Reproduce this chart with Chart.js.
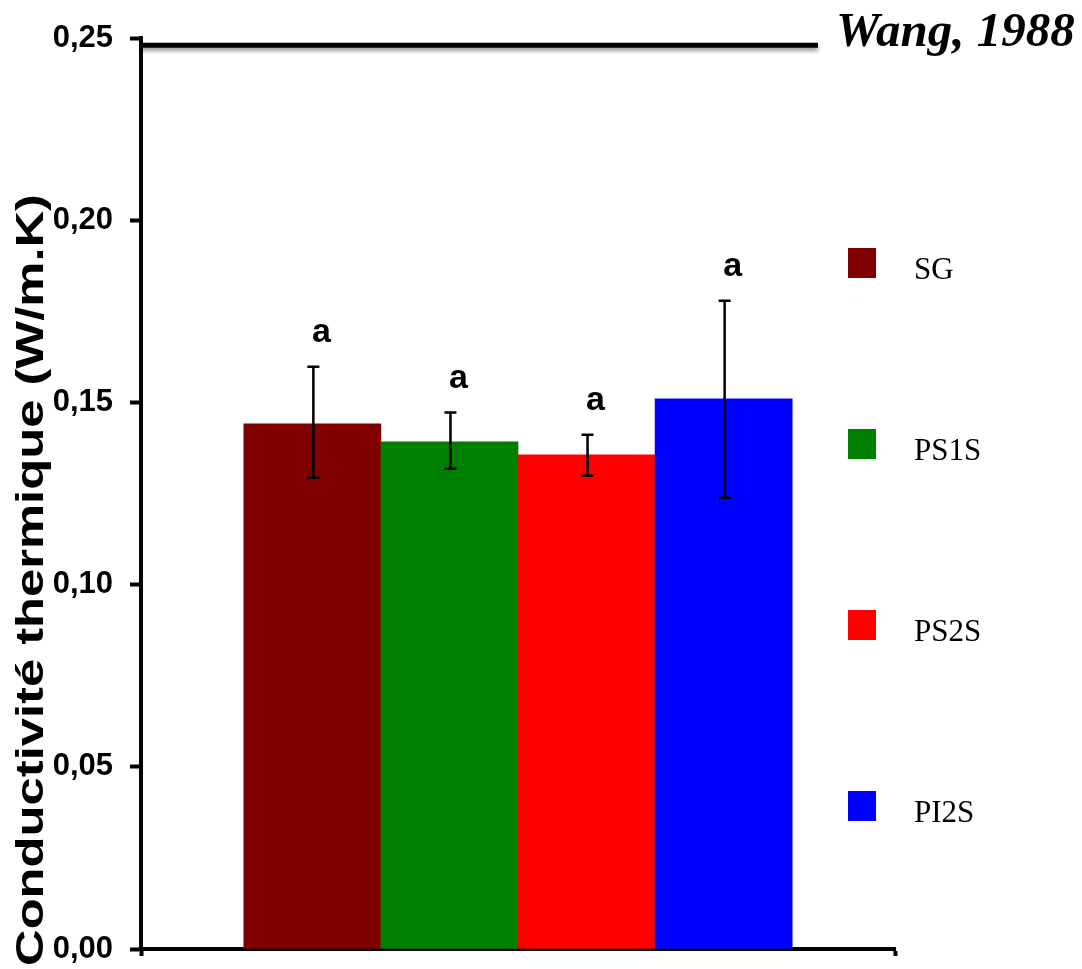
<!DOCTYPE html>
<html>
<head>
<meta charset="utf-8">
<script src="https://cdn.jsdelivr.net/npm/chart.js@4"></script>
<style>
  html, body { margin: 0; padding: 0; background: #fff; }
  #wrap { width: 1082px; height: 969px; position: relative; }
</style>
</head>
<body>
<div id="wrap"><canvas id="canvas-conductivite"></canvas></div>
<script>
// donnees
const categories = ["SG", "PS1S", "PS2S", "PI2S"];
const conductivite = [0.1441, 0.1392, 0.1356, 0.151];
const erreurHaut = [0.1598, 0.1472, 0.1411, 0.1779];
const erreurBas = [0.1293, 0.1318, 0.1299, 0.1238];
const lettres = ["a", "a", "a", "a"];
const couleurs = ["#800000", "#008000", "#ff0000", "#0000ff"];
const yTicks = [0, 0.05, 0.1, 0.15, 0.2, 0.25];
const refLabel = "Wang, 1988";
const refValue = 0.248;
const titreY = "Conductivité thermique (W/m.K)";

document.addEventListener("DOMContentLoaded", function () {
  createGraficoConductivite();
});

const extrasPlugin = {
  id: "extras",
  afterDatasetsDraw(chart) {
    const ctx = chart.ctx;
    const area = chart.chartArea;
    const y = chart.scales.y;
    const meta = chart.getDatasetMeta(0);

    ctx.save();
    // barres d'erreur + lettres
    ctx.strokeStyle = "#000";
    ctx.fillStyle = "#000";
    ctx.lineWidth = 2.5;
    ctx.font = "bold 34px 'Liberation Sans'";
    ctx.textAlign = "center";
    ctx.textBaseline = "middle";
    meta.data.forEach((bar, i) => {
      const x = bar.x + 1;
      const top = y.getPixelForValue(erreurHaut[i]);
      const bot = y.getPixelForValue(erreurBas[i]);
      ctx.beginPath();
      ctx.moveTo(x, top);
      ctx.lineTo(x, bot);
      ctx.moveTo(x - 6, top);
      ctx.lineTo(x + 6, top);
      ctx.moveTo(x - 6, bot);
      ctx.lineTo(x + 6, bot);
      ctx.stroke();
      ctx.fillText(lettres[i], x + 8, top - 34);
    });

    // ligne de reference Wang
    const yRef = y.getPixelForValue(refValue);
    ctx.save();
    ctx.shadowColor = "rgba(0,0,0,0.45)";
    ctx.shadowBlur = 4;
    ctx.shadowOffsetY = 3;
    ctx.lineWidth = 5;
    ctx.beginPath();
    ctx.moveTo(area.left, yRef);
    ctx.lineTo(area.left + 677, yRef);
    ctx.stroke();
    ctx.restore();

    ctx.font = "italic bold 49px 'Liberation Serif'";
    ctx.textAlign = "left";
    ctx.textBaseline = "alphabetic";
    ctx.fillText(refLabel, area.right - 59, yRef + 1);

    // legende
    ctx.font = "31px 'Liberation Serif'";
    categories.forEach((cat, i) => {
      const cy = area.top + 225 + i * 181;
      ctx.fillStyle = couleurs[i];
      ctx.fillRect(area.right - 47, cy - 15, 28, 30);
      ctx.fillStyle = "#000";
      ctx.fillText(cat, area.right + 19, cy + 16);
    });

    // titre de l'axe y
    ctx.font = "bold 38px 'Liberation Sans'";
    const w = ctx.measureText(titreY).width;
    ctx.translate(43, 580);
    ctx.rotate(-Math.PI / 2);
    ctx.scale(772 / w, 1);
    ctx.textAlign = "center";
    ctx.fillText(titreY, 0, 0);
    ctx.restore();
  },
};

function createGraficoConductivite() {
  const data = {
    datasets: [
      {
        data: categories.map((c, i) => ({ x: i + 1, y: conductivite[i] })),
        backgroundColor: couleurs,
        borderWidth: 0,
        categoryPercentage: 1,
        barPercentage: 1,
      },
    ],
  };

  const config = {
    type: "bar",
    data: data,
    options: {
      responsive: true,
      maintainAspectRatio: false,
      animation: false,
      layout: { padding: { left: 53, right: 187, top: 38, bottom: 13 } },
      plugins: { legend: { display: false }, tooltip: { enabled: false } },
      scales: {
        x: {
          type: "linear",
          min: -0.25,
          max: 5.25,
          offset: false,
          afterBuildTicks: (axis) => {
            axis.ticks = [{ value: axis.min }, { value: axis.max }];
          },
          afterFit: (axis) => {
            axis.height = 7;
          },
          ticks: { display: false },
          grid: {
            offset: false,
            drawOnChartArea: false,
            color: "#000",
            tickLength: 7,
            tickWidth: 4,
          },
          border: { color: "#000", width: 4 },
        },
        y: {
          min: 0,
          max: 0.25,
          afterBuildTicks: (axis) => {
            axis.ticks = yTicks.map((v) => ({ value: v }));
          },
          afterFit: (axis) => {
            axis.width = 88;
            axis.paddingTop = 0;
            axis.paddingBottom = 0;
          },
          ticks: {
            padding: 17,
            color: "#000",
            font: { family: "'Liberation Sans'", size: 31, weight: "bold" },
            callback: (v) => v.toFixed(2).replace(".", ","),
          },
          grid: {
            drawOnChartArea: false,
            color: "#000",
            tickLength: 11,
            tickWidth: 4,
          },
          border: { color: "#000", width: 4 },
        },
      },
    },
    plugins: [extrasPlugin],
  };

  new Chart(document.getElementById("canvas-conductivite"), config);
}
</script>
</body>
</html>
